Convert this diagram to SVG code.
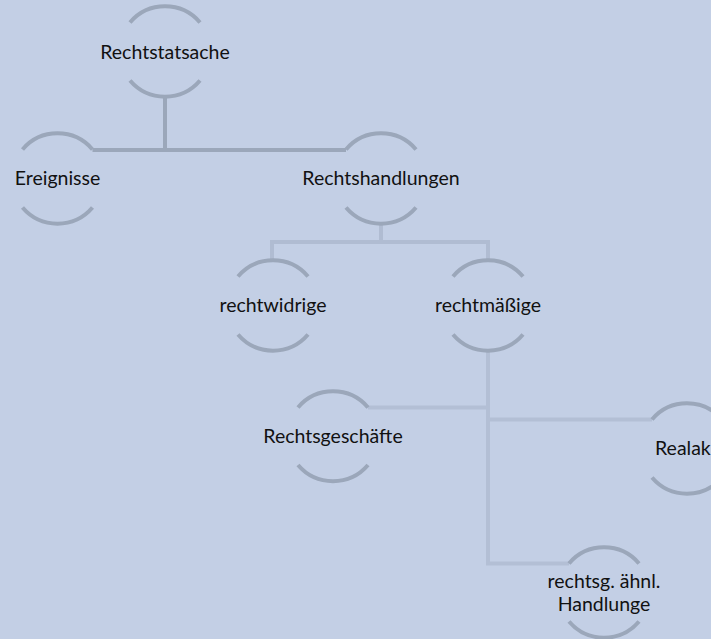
<svg xmlns="http://www.w3.org/2000/svg" width="711" height="639" viewBox="0 0 711 639">
<style>
.arc{fill:none;stroke:#9ba7ba;stroke-width:4}
.c1{fill:none;stroke:#9ba7ba;stroke-width:4}
.c2{fill:none;stroke:#b0bcd2;stroke-width:4}
.c3{fill:none;stroke:#b3bfd5;stroke-width:4}
text{font-family:Lato,"Liberation Sans",sans-serif;font-size:19.5px;fill:#111;text-anchor:middle}
</style>
<rect width="711" height="639" fill="#c3cfe5"/>
<g id="connectors">
<path class="c1" d="M165,97.5 V150 H92.5 M165,97.5 V150 H346"/>
<path class="c2" d="M381,224.5 V242 H272 V259.5 M381,242 H488 V259.5"/>
<path class="c3" d="M488,351.5 V407.5 H368 M488,351.5 V419.5 H652 M488,351.5 V563.5 H569"/>
</g>
<g id="n-rechtstatsache">
<path class="arc" d="M130,22.5 A46,46 0 0 1 200,22.5 M130,80.5 A46,46 0 0 0 200,80.5"/>
<text x="165" y="59">Rechtstatsache</text>
</g>
<g id="n-ereignisse">
<path class="arc" d="M22.5,149.5 A46,46 0 0 1 92.5,149.5 M22.5,207.5 A46,46 0 0 0 92.5,207.5"/>
<text x="57.5" y="185">Ereignisse</text>
</g>
<g id="n-rechtshandlungen">
<path class="arc" d="M346,149.5 A46,46 0 0 1 416,149.5 M346,207.5 A46,46 0 0 0 416,207.5"/>
<text x="381" y="185">Rechtshandlungen</text>
</g>
<g id="n-rechtwidrige">
<path class="arc" d="M238,276.5 A46,46 0 0 1 308,276.5 M238,334.5 A46,46 0 0 0 308,334.5"/>
<text x="273" y="312">rechtwidrige</text>
</g>
<g id="n-rechtmaessige">
<path class="arc" d="M453,276.5 A46,46 0 0 1 523,276.5 M453,334.5 A46,46 0 0 0 523,334.5"/>
<text x="488" y="312">rechtmäßige</text>
</g>
<g id="n-rechtsgeschaefte">
<path class="arc" d="M298,407.5 A46,46 0 0 1 368,407.5 M298,465 A46,46 0 0 0 368,465"/>
<text x="333" y="443">Rechtsgeschäfte</text>
</g>
<g id="n-realakte">
<path class="arc" d="M652,419.5 A46,46 0 0 1 722,419.5 M652,477.5 A46,46 0 0 0 722,477.5"/>
<text x="655" y="455" style="text-anchor:start">Realak</text>
</g>
<g id="n-rechtsg">
<path class="arc" d="M569,563.5 A46,46 0 0 1 639,563.5 M569,621.5 A46,46 0 0 0 639,621.5"/>
<text x="604" y="588">rechtsg. ähnl.</text>
<text x="604" y="611">Handlunge</text>
</g>
</svg>
